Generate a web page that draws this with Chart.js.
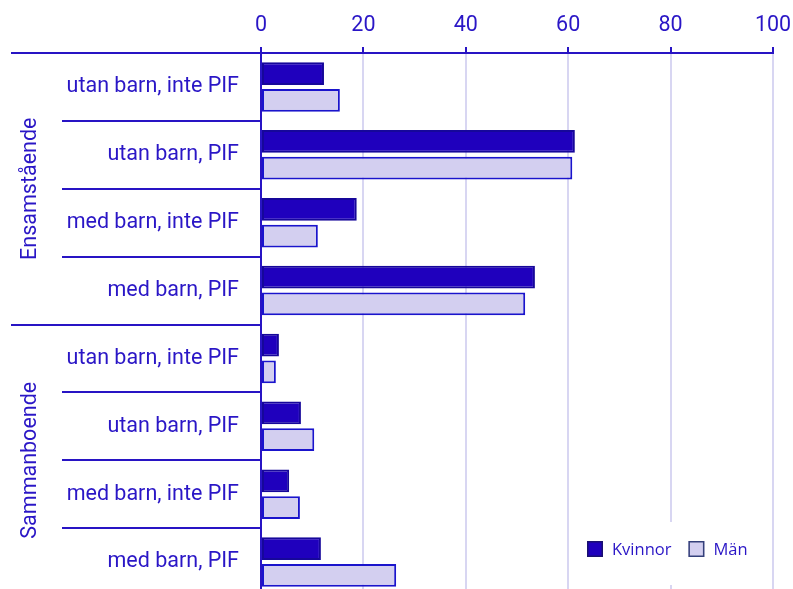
<!DOCTYPE html>
<html>
<head>
<meta charset="utf-8">
<script src="https://cdn.jsdelivr.net/npm/chart.js@4.4.1/dist/chart.umd.min.js"></script>
<style>
  html, body { margin: 0; padding: 0; background: #fff; overflow: hidden; }
  #wrap { width: 793px; height: 589px; overflow: hidden; }
</style>
</head>
<body>
<div id="wrap"><canvas id="chart" width="793" height="596"></canvas></div>
<script>
const categories = [
  'utan barn, inte PIF', 'utan barn, PIF', 'med barn, inte PIF', 'med barn, PIF',
  'utan barn, inte PIF', 'utan barn, PIF', 'med barn, inte PIF', 'med barn, PIF',
]
const groups = ['Ensamstående', 'Sammanboende']
const groupSizes = [4, 4]
const kvinnor = [12.3, 61.3, 18.7, 53.5, 3.5, 7.8, 5.5, 11.7]
const man = [15.4, 60.8, 11.1, 51.6, 2.9, 10.4, 7.6, 26.4]
const xTicks = [0, 20, 40, 60, 80, 100]

const textColor = '#2a16c6'
const lineColor = '#2814c4'
const fontSize = 21.5

// separators + group labels on the left
const groupPlugin = {
  id: 'groups',
  afterDraw(chart) {
    const ctx = chart.ctx
    const y = chart.scales.y
    const area = chart.chartArea
    ctx.save()
    ctx.strokeStyle = lineColor
    ctx.lineWidth = 2
    const starts = [0]
    groupSizes.forEach((n, i) => starts.push(starts[i] + n))
    for (let i = 0; i <= categories.length; i++) {
      const py = Math.round(y.getPixelForValue(i - 0.5))
      const x0 = starts.includes(i) ? 11 : 62
      ctx.beginPath()
      ctx.moveTo(x0, py)
      ctx.lineTo(area.left, py)
      ctx.stroke()
    }
    ctx.fillStyle = textColor
    ctx.font = fontSize + 'px Roboto'
    ctx.textAlign = 'center'
    ctx.textBaseline = 'middle'
    groups.forEach((g, i) => {
      const top = y.getPixelForValue(starts[i] - 0.5)
      const bot = y.getPixelForValue(starts[i + 1] - 0.5)
      ctx.save()
      ctx.translate(31, (top + bot) / 2)
      ctx.rotate(-Math.PI / 2)
      ctx.fillText(g, 0, 0)
      ctx.restore()
    })
    ctx.restore()
  },
}

// legend box in the lower right corner
const legendPlugin = {
  id: 'boxLegend',
  afterDraw(chart) {
    const ctx = chart.ctx
    const area = chart.chartArea
    const right = area.right - 2
    const left = right - 202
    const top = 522
    ctx.save()
    ctx.fillStyle = '#ffffff'
    ctx.fillRect(left, top, right - left, 63)
    ctx.font = '16.5px "Open Sans"'
    ctx.textBaseline = 'middle'
    let x = left + 18
    const cy = top + 27
    chart.data.datasets.forEach(ds => {
      ctx.fillStyle = ds.backgroundColor
      ctx.fillRect(x, cy - 8, 16, 16)
      ctx.strokeStyle = ds.label === 'Kvinnor' ? '#1a1070' : '#34407a'
      ctx.lineWidth = 1.5
      ctx.strokeRect(x + 0.75, cy - 7.25, 14.5, 14.5)
      ctx.fillStyle = textColor
      ctx.fillText(ds.label, x + 25, cy + 1)
      x += 25 + ctx.measureText(ds.label).width + 17
    })
    ctx.restore()
  },
}

new Chart(document.getElementById('chart'), {
  type: 'bar',
  data: {
    labels: categories,
    datasets: [
      {
        label: 'Kvinnor',
        data: kvinnor,
        backgroundColor: '#1f00bd',
        borderColor: '#16079a',
        borderWidth: 2,
        borderSkipped: false,
      },
      {
        label: 'Män',
        data: man,
        backgroundColor: '#d3cff0',
        borderColor: '#1a14cc',
        borderWidth: 2,
        borderSkipped: false,
      },
    ],
  },
  options: {
    indexAxis: 'y',
    responsive: false,
    devicePixelRatio: 1,
    animation: false,
    categoryPercentage: 0.79,
    barPercentage: 0.85,
    layout: { padding: { left: 0, right: 20, top: 0, bottom: 0 } },
    scales: {
      x: {
        position: 'top',
        min: 0,
        max: 100,
        afterBuildTicks: s => { s.ticks = xTicks.map(v => ({ value: v })) },
        afterFit: s => {
          s.height = 53
          s.paddingLeft = 0
          s.paddingRight = 0
        },
        grid: {
          color: '#d8d6f2',
          lineWidth: 2,
          tickColor: lineColor,
          tickLength: 6,
        },
        border: { color: lineColor, width: 2 },
        ticks: {
          color: textColor,
          font: { family: 'Roboto', size: fontSize },
          padding: 8,
        },
      },
      y: {
        afterFit: s => {
          s.width = 261
          s.paddingTop = 0
          s.paddingBottom = 0
        },
        grid: { display: false, drawTicks: false },
        border: { color: lineColor, width: 2 },
        ticks: {
          color: textColor,
          font: { family: 'Roboto', size: fontSize },
          padding: 22,
        },
      },
    },
    plugins: {
      legend: { display: false },
      tooltip: { enabled: false },
    },
  },
  plugins: [groupPlugin, legendPlugin],
})
</script>
</body>
</html>
